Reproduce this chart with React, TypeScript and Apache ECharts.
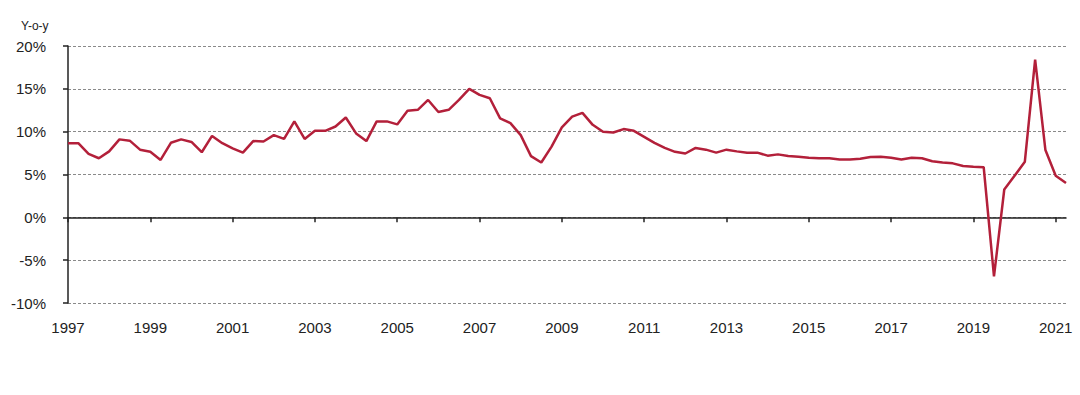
import React, { useEffect, useRef } from "react";
import * as echarts from "echarts";

const years = [
  "1997", "1998", "1999", "2000", "2001", "2002", "2003", "2004", "2005",
  "2006", "2007", "2008", "2009", "2010", "2011", "2012", "2013", "2014",
  "2015", "2016", "2017", "2018", "2019", "2020", "2021",
];
const quarters = ["Q1", "Q2", "Q3", "Q4"];

const yoyValues = [
  8.65, 8.65, 7.4, 6.9, 7.7, 9.1, 8.95, 7.9, 7.65, 6.7,
  8.7, 9.1, 8.8, 7.6, 9.5, 8.65, 8.05, 7.55, 8.9, 8.85,
  9.6, 9.15, 11.2, 9.15, 10.1, 10.1, 10.6, 11.65, 9.8, 8.9,
  11.2, 11.2, 10.85, 12.45, 12.55, 13.7, 12.3, 12.55, 13.7, 15.0,
  14.3, 13.9, 11.55, 11.0, 9.6, 7.15, 6.4, 8.25, 10.5, 11.75,
  12.2, 10.8, 10.0, 9.9, 10.3, 10.1, 9.4, 8.7, 8.1, 7.65,
  7.45, 8.1, 7.9, 7.55, 7.9, 7.7, 7.55, 7.55, 7.2, 7.35,
  7.15, 7.07, 6.95, 6.9, 6.9, 6.75, 6.75, 6.85, 7.05, 7.07,
  6.95, 6.75, 6.95, 6.9, 6.55, 6.4, 6.3, 6.0, 5.9, 5.85,
  -6.9, 3.25, 4.85, 6.5, 18.4, 7.85, 4.85, 4.0,
];

const yAxisTitle = "Y-o-y";

const categories: string[] = [];
for (const y of years) {
  for (const q of quarters) {
    if (categories.length < yoyValues.length) categories.push(y + " " + q);
  }
}

const labelEvery = 8;
const showTick = (idx: number) => idx % labelEvery === 0;

export default function App() {
  const ref = useRef<HTMLDivElement>(null);

  useEffect(() => {
    document.body.style.margin = "0";
    if (!ref.current) return;
    const chart = echarts.init(ref.current, undefined, { renderer: "svg" });
    const font = "'Liberation Sans', Arial, sans-serif";
    chart.setOption({
      animation: false,
      backgroundColor: "#ffffff",
      title: {
        text: yAxisTitle,
        left: 16,
        top: 15,
        textStyle: { fontSize: 12, fontWeight: "normal", color: "#222", fontFamily: font },
      },
      grid: { left: 68, right: 14, top: 46, bottom: 92, containLabel: false },
      xAxis: [
        {
          type: "category",
          data: categories,
          boundaryGap: false,
          position: "bottom",
          axisLine: { show: true, onZero: true, lineStyle: { color: "#222", width: 1.5 } },
          axisTick: { show: true, interval: showTick, length: 5, lineStyle: { color: "#222", width: 1.5 } },
          axisLabel: { show: false },
          splitLine: { show: false },
        },
        {
          type: "category",
          data: categories,
          boundaryGap: false,
          position: "bottom",
          axisLine: { show: false, onZero: false },
          axisTick: { show: false },
          axisLabel: {
            show: true,
            interval: showTick,
            margin: 17,
            fontSize: 15,
            color: "#222",
            fontFamily: font,
            formatter: (v: string) => v.slice(0, 4),
          },
          splitLine: { show: false },
        },
      ],
      yAxis: {
        type: "value",
        min: -10,
        max: 20,
        interval: 5,
        axisLine: { show: true, lineStyle: { color: "#222", width: 1.5 } },
        axisTick: { show: true, inside: false, length: 5, lineStyle: { color: "#222", width: 1.5 } },
        axisLabel: {
          formatter: "{value}%",
          margin: 22,
          fontSize: 15,
          color: "#222",
          fontFamily: font,
        },
        splitLine: {
          show: true,
          lineStyle: { color: "#8a8a8a", width: 1, type: [3, 2] },
        },
      },
      series: [
        {
          type: "line",
          xAxisIndex: 0,
          data: yoyValues,
          symbol: "none",
          smooth: false,
          lineStyle: { color: "#b3203a", width: 2.5 },
          z: 5,
        },
      ],
    });
    return () => chart.dispose();
  }, []);

  return <div ref={ref} style={{ width: 1080, height: 395 }} />;
}
